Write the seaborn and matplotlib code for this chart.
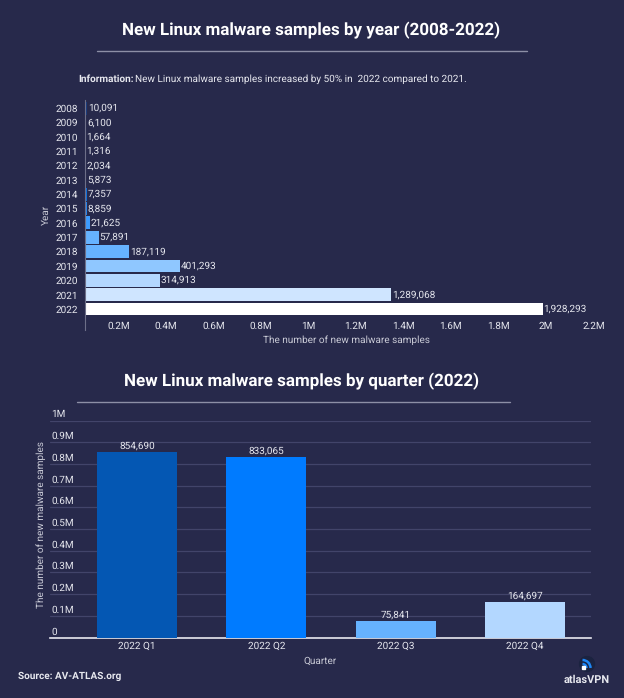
import matplotlib
matplotlib.use("Agg")
import matplotlib.pyplot as plt
from matplotlib.lines import Line2D
from matplotlib.patches import Arc, Circle, Rectangle
from matplotlib.transforms import ScaledTranslation
import pandas as pd
import seaborn as sns

years = ["2008", "2009", "2010", "2011", "2012", "2013", "2014", "2015", "2016", "2017", "2018", "2019", "2020", "2021", "2022"]
year_samples = [10091, 6100, 1664, 1316, 2034, 5873, 7357, 8859, 21625, 57891, 187119, 401293, 314913, 1289068, 1928293]
year_colors = ["#173a7c", "#173a7c", "#173a7c", "#173a7c", "#0b4ea2", "#0a6fe0", "#0a6fe0", "#2386f2", "#3d9bff", "#66b2ff", "#66b2ff", "#8fc7ff", "#b3d7ff", "#cfe5ff", "#ffffff"]
quarters = ["2022 Q1", "2022 Q2", "2022 Q3", "2022 Q4"]
quarter_samples = [854690, 833065, 75841, 164697]
quarter_colors = ["#0457b3", "#007bff", "#66b2ff", "#b3d7ff"]
year_ticks = [200000, 400000, 600000, 800000, 1000000, 1200000, 1400000, 1600000, 1800000, 2000000, 2200000]
year_tick_labels = ["0.2M", "0.4M", "0.6M", "0.8M", "1M", "1.2M", "1.4M", "1.6M", "1.8M", "2M", "2.2M"]
quarter_ticks = [0, 100000, 200000, 300000, 400000, 500000, 600000, 700000, 800000, 900000, 1000000]
quarter_tick_labels = ["0", "0.1M", "0.2M", "0.3M", "0.4M", "0.5M", "0.6M", "0.7M", "0.8M", "0.9M", "1M"]

W, H = 624, 698
BG = "#27294b"
TXT = "#e6e7ee"

sns.set_theme(style="white")
plt.rcParams["font.family"] = ["Roboto", "DejaVu Sans"]
plt.rcParams["axes.facecolor"] = "none"
plt.rcParams["text.hinting"] = "no_hinting"
plt.rcParams["text.hinting_factor"] = 1


def px_axes(fig, left, top, right, bottom):
    return fig.add_axes([left / W, 1 - bottom / H, (right - left) / W, (bottom - top) / H])


def fig_text(fig, x, y, s, **kw):
    kw.setdefault("color", TXT)
    kw.setdefault("va", "center")
    return fig.text(x / W, 1 - y / H, s, **kw)


def fig_line(fig, x0, x1, y):
    fig.add_artist(Line2D([x0 / W, x1 / W], [1 - y / H, 1 - y / H], color="#8d8fa6", lw=1.0))


fig = plt.figure(figsize=(W / 100, H / 100), dpi=100, facecolor=BG)

# yearly chart
ax = px_axes(fig, 85, 100, 610, 330)
df_year = pd.DataFrame({"year": years, "samples": year_samples})
sns.barplot(data=df_year, x="samples", y="year", hue="year", palette=year_colors, legend=False, width=0.9, saturation=1, linewidth=0, ax=ax)
ax.set_xlim(0, 2211000)
ax.set_ylim(15.46, -0.56)
for c in ax.containers:
    ax.bar_label(c, labels=[f"{v:,.0f}" for v in c.datavalues], padding=0.5, color=TXT, fontsize=7.3)
ax.set_xticks(year_ticks)
ax.set_xticklabels(year_tick_labels, color=TXT, fontsize=7.3)
ax.tick_params(axis="x", length=0, pad=-6)
ax.tick_params(axis="y", length=0, pad=5, labelsize=7.2, labelcolor=TXT)
shift = ScaledTranslation(-14 / 100, 0, fig.dpi_scale_trans)
for t in ax.get_xticklabels():
    t.set_transform(t.get_transform() + shift)
ax.set_xlabel("")
ax.set_ylabel("")
sns.despine(ax=ax, bottom=True)
ax.spines["left"].set_color("#6d6f88")
ax.spines["left"].set_linewidth(0.8)

# quarterly chart
ax2 = px_axes(fig, 50, 420.5, 591, 637.5)
df_q = pd.DataFrame({"quarter": quarters, "samples": quarter_samples})
sns.barplot(data=df_q, x="quarter", y="samples", hue="quarter", palette=quarter_colors, legend=False, width=0.62, saturation=1, linewidth=0, ax=ax2, zorder=3)
ax2.set_xlim(-0.673, 3.511)
ax2.set_ylim(0, 1000000)
ax2.set_yticks(quarter_ticks)
ax2.set_yticklabels(quarter_tick_labels, color=TXT, fontsize=7.3, ha="left", va="bottom")
ax2.tick_params(axis="y", length=0, pad=0, direction="in")
ax2.tick_params(axis="x", length=0, pad=3, labelsize=7.3, labelcolor=TXT)
for t in ax2.get_yticklabels():
    t.set_transform(t.get_transform() + ScaledTranslation(1 / 100, 1 / 100, fig.dpi_scale_trans))
    t.set_x(0)
ax2.grid(axis="y", color="#42446a", lw=0.9, zorder=0)
ax2.set_axisbelow(True)
for c in ax2.containers:
    ax2.bar_label(c, labels=[f"{v:,.0f}" for v in c.datavalues], padding=1, color=TXT, fontsize=7.3)
ax2.set_xlabel("")
ax2.set_ylabel("")
sns.despine(ax=ax2, left=True)
ax2.spines["bottom"].set_color("#e8e8f0")
ax2.spines["bottom"].set_linewidth(1.2)

# titles and notes
fig_text(fig, 311, 30, "New Linux malware samples by year (2008-2022)", ha="center", fontsize=11.9, fontweight="bold", color="white")
fig_line(fig, 97, 527, 51)
fig_text(fig, 78, 79, "Information:", fontsize=7.0, fontweight="bold")
fig_text(fig, 135, 79, "New Linux malware samples increased by 50% in  2022 compared to 2021.", fontsize=6.85)
fig_text(fig, 46, 215, "Year", rotation=90, ha="center", fontsize=7.2, color="#c9cad6")
fig_text(fig, 346, 340, "The number of new malware samples", ha="center", fontsize=7.2, color="#c9cad6")
fig_text(fig, 301.5, 381, "New Linux malware samples by quarter (2022)", ha="center", fontsize=11.9, fontweight="bold", color="white")
fig_line(fig, 77, 510, 402)
fig_text(fig, 41, 525, "The number of new malware samples", rotation=90, ha="center", fontsize=7.2, color="#c9cad6")
fig_text(fig, 320, 661, "Quarter", ha="center", fontsize=7.2, color="#c9cad6")
fig_text(fig, 18, 676, "Source: AV-ATLAS.org", fontsize=7.3, fontweight="bold")
fig_text(fig, 587, 680, "atlasVPN", ha="center", fontsize=7.8, fontweight="bold")

# logo
logo = px_axes(fig, 578, 654, 598, 674)
logo.set_xlim(0, 20)
logo.set_ylim(20, 0)
logo.axis("off")
logo.add_patch(Circle((9, 10), 7.5, color="#1b2340"))
for r in (4, 8):
    logo.add_patch(Arc((4.5, 14), 2 * r, 2 * r, theta1=270, theta2=360, color="#1e86f5", lw=1.8))
logo.add_patch(Rectangle((4, 12), 3, 3, color="white"))

fig.savefig("out.png", dpi=100, facecolor=BG)
